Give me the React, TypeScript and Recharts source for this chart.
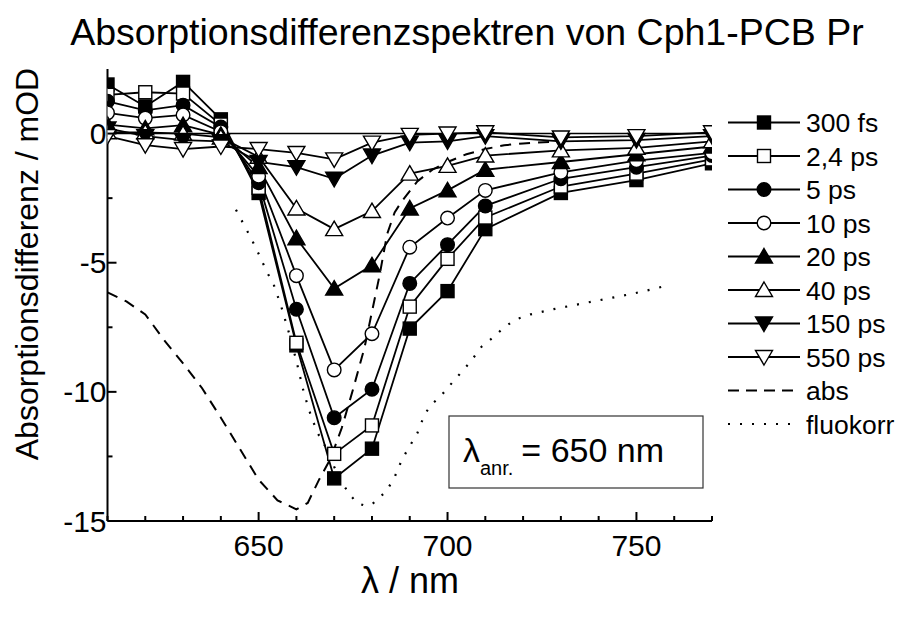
import React from 'react';
import { LineChart, Line, XAxis, YAxis, ReferenceLine } from 'recharts';

// Probe wavelengths (nm) of the transient spectra
const wavelengths = [610, 620, 630, 640, 650, 660, 670, 680, 690, 700, 710, 730, 750, 770];

// Absorption difference (mOD) for each delay time
const t300fs = [1.9, 1.05, 2.0, 0.55, -2.3, -8.2, -13.35, -12.2, -7.55, -6.1, -3.7, -2.3, -1.8, -1.15];
const t2_4ps = [1.5, 1.6, 1.55, 0.35, -2.1, -8.1, -12.4, -11.3, -6.7, -4.85, -3.25, -2.05, -1.55, -1.0];
const t5ps = [1.25, 0.9, 1.1, 0.25, -1.9, -6.8, -11.0, -9.9, -5.8, -4.3, -2.8, -1.75, -1.3, -0.85];
const t10ps = [0.8, 0.6, 0.72, 0.07, -1.65, -5.5, -9.15, -7.75, -4.4, -3.27, -2.2, -1.5, -1.05, -0.75];
const t20ps = [0.35, 0.2, 0.33, -0.05, -1.3, -4.05, -6.0, -5.1, -2.9, -2.2, -1.4, -1.1, -0.8, -0.5];
const t40ps = [0.05, 0.05, 0.0, -0.15, -0.9, -2.9, -3.7, -3.0, -1.55, -1.25, -0.85, -0.65, -0.55, -0.3];
const t150ps = [0.2, -0.1, -0.25, -0.3, -1.1, -1.3, -1.75, -0.85, -0.35, -0.3, -0.1, -0.3, -0.25, -0.1];
const t550ps = [-0.1, -0.45, -0.6, -0.5, -0.6, -0.75, -1.0, -0.35, -0.05, 0.0, 0.05, -0.15, -0.1, 0.05];

// Scaled ground-state absorption spectrum
const absLambda = [610, 615, 620, 625, 630, 635, 640, 645, 650, 655, 660, 663, 666, 669, 672, 675, 678, 680, 682, 684, 686, 688, 692, 696, 700, 705, 710, 715, 720, 730];
const absValue = [-6.15, -6.5, -7.0, -8.0, -8.9, -9.85, -11.0, -12.2, -13.4, -14.2, -14.55, -14.3, -13.4, -12.6, -11.4, -9.9, -8.3, -6.9, -5.5, -3.9, -3.05, -2.6, -1.85, -1.4, -1.1, -0.8, -0.6, -0.45, -0.38, -0.3];

// Scaled, corrected fluorescence spectrum
const fluoLambda = [644, 646, 648, 650, 652, 654, 656, 658, 660, 662, 664, 666, 668, 670, 672, 674, 676, 678, 680, 682, 684, 686, 688, 690, 692, 694, 696, 698, 700, 703, 706, 709, 712, 715, 718, 722, 728, 735, 742, 749, 755, 759];
const fluoValue = [-2.95, -3.5, -4.05, -4.65, -5.3, -5.85, -6.7, -7.7, -8.8, -10.05, -11.0, -11.7, -12.2, -12.9, -13.5, -13.95, -14.3, -14.4, -14.35, -14.1, -13.8, -13.3, -12.6, -12.1, -11.6, -10.85, -10.45, -10.2, -9.85, -9.35, -8.85, -8.25, -7.9, -7.5, -7.2, -7.0, -6.8, -6.6, -6.4, -6.2, -6.0, -5.85];

const xTicks = [610, 620, 630, 640, 650, 660, 670, 680, 690, 700, 710, 720, 730, 740, 750, 760, 770];
const xMajor = [650, 700, 750];
const yTicks = [0, -2.5, -5, -7.5, -10, -12.5, -15];
const yMajor = [0, -5, -10, -15];

type Shape = 'square' | 'circle' | 'up' | 'down';

const seriesDefs: { key: string; name: string; values: number[]; shape: Shape; filled: boolean }[] = [
  { key: 's300fs', name: '300 fs', values: t300fs, shape: 'square', filled: true },
  { key: 's2_4ps', name: '2,4 ps', values: t2_4ps, shape: 'square', filled: false },
  { key: 's5ps', name: '5 ps', values: t5ps, shape: 'circle', filled: true },
  { key: 's10ps', name: '10 ps', values: t10ps, shape: 'circle', filled: false },
  { key: 's20ps', name: '20 ps', values: t20ps, shape: 'up', filled: true },
  { key: 's40ps', name: '40 ps', values: t40ps, shape: 'up', filled: false },
  { key: 's150ps', name: '150 ps', values: t150ps, shape: 'down', filled: true },
  { key: 's550ps', name: '550 ps', values: t550ps, shape: 'down', filled: false },
];

const table = wavelengths.map((lambda, i) => {
  const row: Record<string, number> = { lambda };
  seriesDefs.forEach((s) => {
    row[s.key] = s.values[i];
  });
  return row;
});
const absData = absLambda.map((lambda, i) => ({ lambda, v: absValue[i] }));
const fluoData = fluoLambda.map((lambda, i) => ({ lambda, v: fluoValue[i] }));

const FONT = '"Liberation Sans", Arial, Helvetica, sans-serif';
const INK = '#000';

function Marker({ cx, cy, shape, filled }: { cx: number; cy: number; shape: Shape; filled: boolean }) {
  const fill = filled ? INK : '#fff';
  const common = { fill, stroke: INK, strokeWidth: 1.4 };
  if (shape === 'square') return <rect x={cx - 6.5} y={cy - 6.5} width={13} height={13} {...common} />;
  if (shape === 'circle') return <circle cx={cx} cy={cy} r={6.8} {...common} />;
  if (shape === 'up')
    return <polygon points={`${cx},${cy - 8} ${cx + 8.5},${cy + 6.5} ${cx - 8.5},${cy + 6.5}`} {...common} />;
  return <polygon points={`${cx},${cy + 8} ${cx + 8.5},${cy - 6.5} ${cx - 8.5},${cy - 6.5}`} {...common} />;
}

const makeDot = (shape: Shape, filled: boolean) => (props: any) => {
  const { cx, cy, key, index } = props;
  if (cx == null || cy == null) return <g key={key ?? index} />;
  return (
    <g key={key ?? `${shape}-${index}`}>
      <Marker cx={cx} cy={cy} shape={shape} filled={filled} />
    </g>
  );
};

const BottomTick = (props: any) => {
  const { x, y, payload } = props;
  const major = xMajor.includes(payload.value);
  return (
    <g>
      <line x1={x} x2={x} y1={y} y2={y - (major ? 9 : 5)} stroke={INK} strokeWidth={2} />
      {major && (
        <text x={x} y={y + 35} textAnchor="middle" fontSize={30} fontFamily={FONT} fill={INK}>
          {payload.value}
        </text>
      )}
    </g>
  );
};

const TopTick = (props: any) => {
  const { x, y, payload } = props;
  const major = xMajor.includes(payload.value);
  return <line x1={x} x2={x} y1={y} y2={y + (major ? 9 : 5)} stroke={INK} strokeWidth={2} />;
};

const LeftTick = (props: any) => {
  const { x, y, payload } = props;
  const major = yMajor.includes(payload.value);
  return (
    <g>
      <line x1={x} x2={x + (major ? 9 : 5)} y1={y} y2={y} stroke={INK} strokeWidth={2} />
      {major && (
        <text x={x - 1} y={y + 10.5} textAnchor="end" fontSize={30} fontFamily={FONT} fill={INK}>
          {payload.value}
        </text>
      )}
    </g>
  );
};

const RightTick = (props: any) => {
  const { x, y, payload } = props;
  const major = yMajor.includes(payload.value);
  return <line x1={x} x2={x - (major ? 9 : 5)} y1={y} y2={y} stroke={INK} strokeWidth={2} />;
};

const legendTop = 122.5;
const legendStep = 33.5;

function LegendPanel() {
  return (
    <g>
      {seriesDefs.map((s, i) => {
        const y = legendTop + i * legendStep;
        return (
          <g key={s.key}>
            <line x1={728} x2={800} y1={y} y2={y} stroke={INK} strokeWidth={1.8} />
            <Marker cx={764} cy={y} shape={s.shape} filled={s.filled} />
            <text x={806} y={y + 9.5} fontSize={26.5} fontFamily={FONT} fill={INK}>
              {s.name}
            </text>
          </g>
        );
      })}
      {[
        { name: 'abs', dash: '11 7' },
        { name: 'fluokorr', dash: '2 10' },
      ].map((d, j) => {
        const y = legendTop + (seriesDefs.length + j) * legendStep;
        return (
          <g key={d.name}>
            <line x1={728} x2={800} y1={y} y2={y} stroke={INK} strokeWidth={2} strokeDasharray={d.dash} />
            <text x={806} y={y + 9.5} fontSize={26.5} fontFamily={FONT} fill={INK}>
              {d.name}
            </text>
          </g>
        );
      })}
    </g>
  );
}

export default function App() {
  return (
    <div style={{ position: 'relative', width: 903, height: 623, margin: '-8px 0 0 -8px', background: '#fff' }}>
      <LineChart
        width={903}
        height={623}
        data={table}
        margin={{ top: 69, right: 191, bottom: 0, left: 0 }}
      >
        <XAxis
          dataKey="lambda"
          type="number"
          domain={[610, 770]}
          allowDataOverflow
          ticks={xTicks}
          interval={0}
          height={102}
          tickSize={0}
          tickMargin={0}
          tickLine={false}
          axisLine={{ stroke: INK, strokeWidth: 2 }}
          tick={BottomTick}
        />
        <XAxis
          xAxisId="top"
          orientation="top"
          dataKey="lambda"
          type="number"
          domain={[610, 770]}
          allowDataOverflow
          ticks={xTicks}
          interval={0}
          height={0}
          tickSize={0}
          tickMargin={0}
          tickLine={false}
          axisLine={{ stroke: INK, strokeWidth: 2 }}
          tick={TopTick}
        />
        <YAxis
          type="number"
          domain={[-15, 2.5]}
          allowDataOverflow
          ticks={yTicks}
          interval={0}
          width={107.5}
          tickSize={0}
          tickMargin={0}
          tickLine={false}
          axisLine={{ stroke: INK, strokeWidth: 2 }}
          tick={LeftTick}
        />
        <YAxis
          yAxisId="right"
          orientation="right"
          type="number"
          domain={[-15, 2.5]}
          allowDataOverflow
          ticks={yTicks}
          interval={0}
          width={0}
          tickSize={0}
          tickMargin={0}
          tickLine={false}
          axisLine={{ stroke: INK, strokeWidth: 2 }}
          tick={RightTick}
        />
        <ReferenceLine y={0} stroke={INK} strokeWidth={1.6} />
        <Line
          data={absData}
          dataKey="v"
          type="linear"
          stroke={INK}
          strokeWidth={2}
          strokeDasharray="11 8"
          dot={false}
          isAnimationActive={false}
        />
        <Line
          data={fluoData}
          dataKey="v"
          type="linear"
          stroke={INK}
          strokeWidth={2.2}
          strokeDasharray="2 10"
          dot={false}
          isAnimationActive={false}
        />
        {seriesDefs.map((s) => (
          <Line
            key={s.key}
            dataKey={s.key}
            name={s.name}
            type="linear"
            stroke={INK}
            strokeWidth={1.8}
            dot={makeDot(s.shape, s.filled)}
            isAnimationActive={false}
          />
        ))}
      </LineChart>
      <svg
        width={903}
        height={623}
        style={{ position: 'absolute', left: 0, top: 0, pointerEvents: 'none' }}
      >
        <text x={467} y={45} textAnchor="middle" fontSize={37.5} fontFamily={FONT} fill={INK}>
          Absorptionsdifferenzspektren von Cph1-PCB Pr
        </text>
        <text
          transform="translate(38,264) rotate(-90)"
          textAnchor="middle"
          fontSize={32}
          fontFamily={FONT}
          fill={INK}
        >
          Absorptionsdifferenz / mOD
        </text>
        <text x={410} y={593} textAnchor="middle" fontSize={36} fontFamily={FONT} fill={INK}>
          λ / nm
        </text>
        <rect x={449} y={416} width={254} height={72} fill="#fff" stroke="#333" strokeWidth={1.2} />
        <text x={463} y={462} fontSize={34} fontFamily={FONT} fill={INK}>
          λ
          <tspan fontSize={20} dy={13}>anr.</tspan>
          <tspan dy={-13} dx={8}>= 650 nm</tspan>
        </text>
        <LegendPanel />
      </svg>
    </div>
  );
}
